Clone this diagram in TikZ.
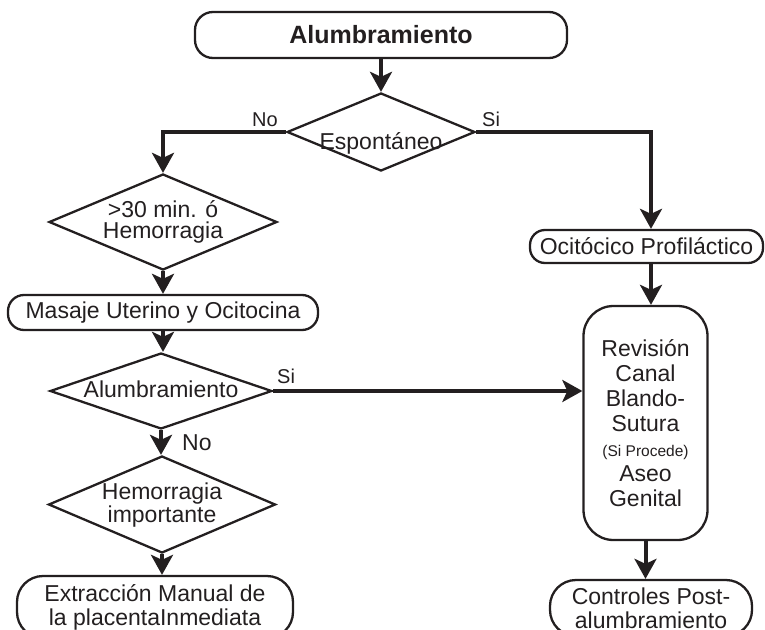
\documentclass[tikz,border=0pt]{standalone}
\usepackage{fontspec}
\setmainfont{Liberation Sans}
\usetikzlibrary{arrows.meta,shapes.geometric}
\definecolor{ink}{HTML}{231F20}
\begin{document}
\begin{tikzpicture}[x=1pt,y=-1pt,
  every node/.style={text=ink, inner sep=0pt},
  box/.style={draw=ink, line width=2.3pt, rectangle, align=center, font=\fontsize{23}{25}\selectfont},
  dia/.style={draw=ink, line width=2.3pt, diamond},
  dtxt/.style={align=center, font=\fontsize{23}{21}\selectfont},
  lbl/.style={font=\fontsize{20}{22}\selectfont},
  arr/.style={draw=ink, line width=4pt, -{Stealth[length=20pt,width=22pt,inset=5pt]}},
  ]
\useasboundingbox (0,0) rectangle (765,629);

% nodes
\node[box, minimum width=372pt, minimum height=46pt, rounded corners=18pt, font=\fontsize{25}{27}\selectfont\bfseries] (title) at (381,35) {Alumbramiento};

\node[dia, minimum width=188pt, minimum height=78pt] (d1) at (381,132) {};
\node[dtxt, anchor=base] (d1t) at (381,149) {Espontáneo};

\node[dia, minimum width=228pt, minimum height=96pt] (d2) at (163,222) {};
\node[dtxt] (d2t) at (163,222) {>30 min. ó\\Hemorragia};

\node[box, minimum width=310pt, minimum height=35pt, rounded corners=16pt] (mas) at (163,312.5) {Masaje Uterino y Ocitocina};

\node[dia, minimum width=222pt, minimum height=76pt] (d3) at (161,391) {};
\node[dtxt, anchor=base] (d3t) at (161,397) {Alumbramiento};

\node[dia, minimum width=227pt, minimum height=97pt] (d4) at (162,504.5) {};
\node[dtxt] (d4t) at (162,505) {Hemorragia\\importante};

\node[box, minimum width=276pt, minimum height=62pt, rounded corners=26pt, font=\fontsize{23}{24}\selectfont] (ext) at (155,607) {Extracción Manual de\\la placentaInmediata};

\node[box, minimum width=233pt, minimum height=33pt, rounded corners=15pt] (oci) at (646.5,246.5) {Ocitócico Profiláctico};

\node[box, minimum width=124pt, minimum height=234pt, rounded corners=30pt] (rev) at (645.5,423) {Revisión\\Canal\\Blando-\\Sutura\\{\fontsize{15.5}{25}\selectfont (Si Procede)}\\Aseo\\Genital};

\node[box, minimum width=202pt, minimum height=56pt, rounded corners=26pt, font=\fontsize{23}{24}\selectfont] (ctl) at (651,608) {Controles Post-\\alumbramiento};

% labels
\node[lbl, anchor=base east] (no1) at (278,126) {No};
\node[lbl, anchor=base west] (si1) at (482,126) {Si};
\node[lbl, anchor=base west] (si2) at (277,383) {Si};
\node[font=\fontsize{23}{25}\selectfont, anchor=base west] (no2) at (182,450) {No};

% connectors
\draw[arr] (title.south) -- (d1.north);
\draw[arr] (d1.west) -| (d2.north);
\draw[arr] (d1.east) -| ([xshift=4.5pt]oci.north);
\draw[arr] (d2.south) -- (mas.north);
\draw[arr] (mas.south) -- (mas.south |- d3.north);
\draw[arr] (d3.east) -- (d3.east -| rev.west);
\draw[arr] (d3.south) -- (d3.south |- d4.north);
\draw[arr] (d4.south) -- (d4.south |- ext.north);
\draw[arr] ([xshift=4.5pt]oci.south) -- ([xshift=4.5pt]oci.south |- rev.north);
\draw[arr] (rev.south) -- (rev.south |- ctl.north);
\end{tikzpicture}
\end{document}
